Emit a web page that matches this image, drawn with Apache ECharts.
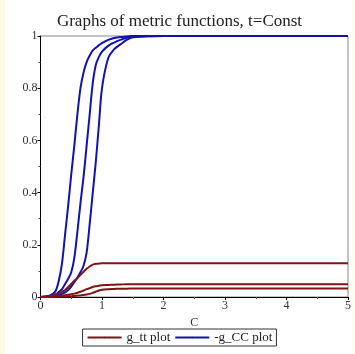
<!DOCTYPE html>
<html lang="en">
<head>
  <meta charset="utf-8"/>
  <title>Graphs of metric functions</title>
  <script src="https://cdn.jsdelivr.net/npm/echarts@6/dist/echarts.min.js"></script>
  <style>
    html, body { margin: 0; padding: 0; background: #fefae6; }
    #chart { position: absolute; left: 5px; top: 0; width: 349px; height: 354px; background: #ffffff; }
  </style>
</head>
<body>
<div id="chart"></div>
<script>
  // C values shared by all curves
  var cValues = [0, 0.1, 0.2, 0.25, 0.3, 0.35, 0.4, 0.45, 0.5, 0.55, 0.6, 0.65, 0.7, 0.75,
    0.8, 0.85, 0.9, 0.95, 1.0, 1.1, 1.2, 1.3, 1.4, 1.5, 2, 3, 4, 5];

  // -g_CC curves (blue)
  var gCC1 = [0, 0.002, 0.012, 0.025, 0.065, 0.13, 0.24, 0.35, 0.47, 0.58, 0.7, 0.8, 0.86, 0.9,
    0.925, 0.945, 0.955, 0.965, 0.973, 0.985, 0.992, 0.996, 0.998, 1, 1, 1, 1, 1];
  var gCC2 = [0, 0.001, 0.005, 0.01, 0.02, 0.03, 0.05, 0.07, 0.095, 0.15, 0.25, 0.36, 0.46, 0.58,
    0.7, 0.82, 0.89, 0.92, 0.94, 0.962, 0.975, 0.985, 0.993, 0.997, 1, 1, 1, 1];
  var gCC3 = [0, 0.001, 0.003, 0.005, 0.008, 0.012, 0.018, 0.027, 0.04, 0.057, 0.075, 0.095, 0.12, 0.17,
    0.28, 0.4, 0.52, 0.66, 0.8, 0.915, 0.95, 0.968, 0.985, 0.995, 1, 1, 1, 1];

  // g_tt curves (dark red)
  var gtt1 = [0, 0.002, 0.006, 0.01, 0.014, 0.02, 0.027, 0.038, 0.05, 0.062, 0.072, 0.085, 0.097, 0.108,
    0.117, 0.124, 0.127, 0.128, 0.129, 0.129, 0.129, 0.129, 0.129, 0.129, 0.129, 0.129, 0.129, 0.129];
  var gtt2 = [0, 0.001, 0.002, 0.003, 0.004, 0.005, 0.007, 0.009, 0.011, 0.013, 0.016, 0.02, 0.025, 0.03,
    0.034, 0.038, 0.041, 0.043, 0.045, 0.046, 0.047, 0.048, 0.049, 0.049, 0.049, 0.049, 0.049, 0.049];
  var gtt3 = [0, 0, 0.001, 0.001, 0.001, 0.002, 0.002, 0.003, 0.003, 0.004, 0.005, 0.006, 0.008, 0.01,
    0.012, 0.016, 0.02, 0.025, 0.028, 0.03, 0.031, 0.032, 0.032, 0.033, 0.033, 0.033, 0.033, 0.033];

  var blue = '#1212b4';
  var red = '#7f1418';
  var serif = '"Liberation Serif", "DejaVu Serif", serif';

  function pairs(ys) {
    return cValues.map(function (c, i) { return [c, ys[i]]; });
  }

  function curve(name, ys, color) {
    return {
      name: name,
      type: 'line',
      data: pairs(ys),
      symbol: 'none',
      smooth: 0.3,
      lineStyle: { color: color, width: 2 },
      itemStyle: { color: color },
      animation: false
    };
  }

  var myChart = echarts.init(document.getElementById('chart'));
  myChart.setOption({
    backgroundColor: '#ffffff',
    title: {
      text: 'Graphs of metric functions, t=Const',
      left: 'center',
      top: 8,
      textStyle: { fontFamily: serif, fontSize: 17, fontWeight: 'normal', color: '#222' }
    },
    legend: {
      data: ['g_tt plot', '-g_CC plot'],
      bottom: 8,
      left: 'center',
      itemWidth: 34,
      itemHeight: 2,
      itemGap: 4,
      padding: [2, 4, 2, 4],
      borderColor: '#333',
      borderWidth: 1,
      borderRadius: 0,
      textStyle: { fontFamily: serif, fontSize: 13, color: '#222' }
    },
    grid: {
      left: 35.5, right: 2, top: 36, bottom: 57,
      show: true, borderColor: '#888', borderWidth: 1
    },
    xAxis: {
      type: 'value',
      min: 0, max: 5, interval: 1,
      name: 'C',
      nameLocation: 'middle',
      nameGap: 20,
      nameTextStyle: { fontFamily: serif, fontSize: 12, color: '#333' },
      axisLine: { lineStyle: { color: '#000' } },
      axisTick: { length: 3, lineStyle: { color: '#000' } },
      minorTick: { show: true, splitNumber: 2, length: 2, lineStyle: { color: '#555' } },
      splitLine: { show: false },
      axisLabel: { fontFamily: serif, fontSize: 12, color: '#333', margin: 3 }
    },
    yAxis: {
      type: 'value',
      min: 0, max: 1, interval: 0.2,
      axisLine: { show: true, lineStyle: { color: '#000' } },
      axisTick: { show: true, length: 3, lineStyle: { color: '#000' } },
      minorTick: { show: true, splitNumber: 2, length: 2, lineStyle: { color: '#555' } },
      splitLine: { show: false },
      axisLabel: { fontFamily: serif, fontSize: 12, color: '#333', margin: 3 }
    },
    series: [
      curve('-g_CC plot', gCC1, blue),
      curve('-g_CC plot', gCC2, blue),
      curve('-g_CC plot', gCC3, blue),
      curve('g_tt plot', gtt1, red),
      curve('g_tt plot', gtt2, red),
      curve('g_tt plot', gtt3, red)
    ]
  });
</script>
</body>
</html>
